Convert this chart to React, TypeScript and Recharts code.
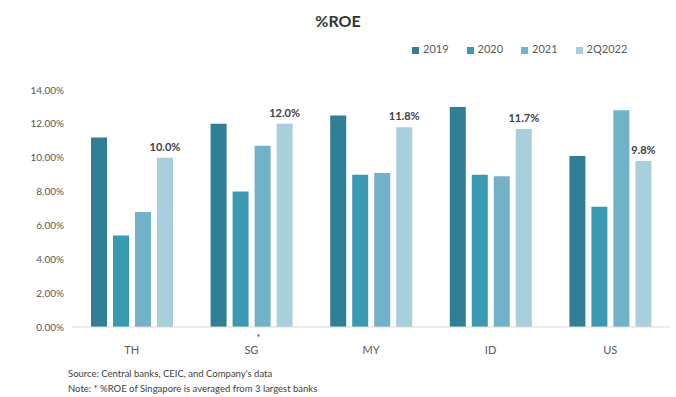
import { BarChart, Bar, XAxis, YAxis, Legend, LabelList } from "recharts";

const countries = ["TH", "SG", "MY", "ID", "US"];
const roe2019 = [11.2, 12.0, 12.5, 13.0, 10.1];
const roe2020 = [5.4, 8.0, 9.0, 9.0, 7.1];
const roe2021 = [6.8, 10.7, 9.1, 8.9, 12.8];
const roe2Q2022 = [10.0, 12.0, 11.8, 11.7, 9.8];
const yTicks = [0, 2, 4, 6, 8, 10, 12, 14];

const COLORS = ["#2f7f95", "#3a9ab2", "#72b2c9", "#a8cfdc"];
const FONT = "Lato, 'Noto Sans', sans-serif";

const data = countries.map((c, i) => ({
  name: c,
  y2019: roe2019[i],
  y2020: roe2020[i],
  y2021: roe2021[i],
  y2Q2022: roe2Q2022[i],
}));

function CountryTick({ x, y, payload }: any) {
  return (
    <g>
      <text x={x} y={y + 19} textAnchor="middle" fontSize={11} fill="#595959" fontFamily={FONT}>
        {payload.value}
      </text>
      {payload.value === "SG" && (
        <text x={x + 7} y={y + 6} textAnchor="middle" fontSize={9} fill="#404040" fontFamily={FONT}>
          *
        </text>
      )}
    </g>
  );
}

export default function App() {
  return (
    <div style={{ position: "absolute", left: 0, top: 0, width: 676, height: 397, background: "#fff", fontFamily: FONT }}>
      <div style={{ position: "absolute", top: 11, width: 676, textAlign: "center", fontSize: 16, fontWeight: 700, color: "#333" }}>
        %ROE
      </div>
      <BarChart
        width={676}
        height={397}
        data={data}
        margin={{ top: 77, right: 6, bottom: 40, left: 8 }}
        barSize={16}
        barGap={6}
      >
        <XAxis
          dataKey="name"
          height={30}
          tickLine={false}
          axisLine={{ stroke: "#d9d9d9" }}
          tick={<CountryTick />}
          interval={0}
        />
        <YAxis
          width={64}
          domain={[0, 14]}
          ticks={yTicks}
          axisLine={false}
          tickLine={false}
          tickFormatter={(v: number) => v.toFixed(2) + "%"}
          tick={{ fontSize: 10, fill: "#595959", fontFamily: FONT }}
        />
        <Legend
          verticalAlign="top"
          align="left"
          iconType="square"
          iconSize={7}
          formatter={(value: any) => (
            <span style={{ color: "#595959", paddingRight: 8 }}>{value}</span>
          )}
          wrapperStyle={{ top: 42, left: 412, width: 260, fontSize: 11 }}
        />
        <Bar dataKey="y2019" name="2019" fill={COLORS[0]} isAnimationActive={false} />
        <Bar dataKey="y2020" name="2020" fill={COLORS[1]} isAnimationActive={false} />
        <Bar dataKey="y2021" name="2021" fill={COLORS[2]} isAnimationActive={false} />
        <Bar dataKey="y2Q2022" name="2Q2022" fill={COLORS[3]} isAnimationActive={false}>
          <LabelList
            dataKey="y2Q2022"
            position="top"
            offset={7}
            formatter={(v: any) => Number(v).toFixed(1) + "%"}
            style={{ fontSize: 11, fontWeight: 700, fill: "#404040", fontFamily: FONT }}
          />
        </Bar>
      </BarChart>
      <div style={{ position: "absolute", left: 68, top: 366, fontSize: 9.5, color: "#404040", lineHeight: "15px" }}>
        <div>Source: Central banks, CEIC, and Company's data</div>
        <div>Note: * %ROE of Singapore is averaged from 3 largest banks</div>
      </div>
    </div>
  );
}
